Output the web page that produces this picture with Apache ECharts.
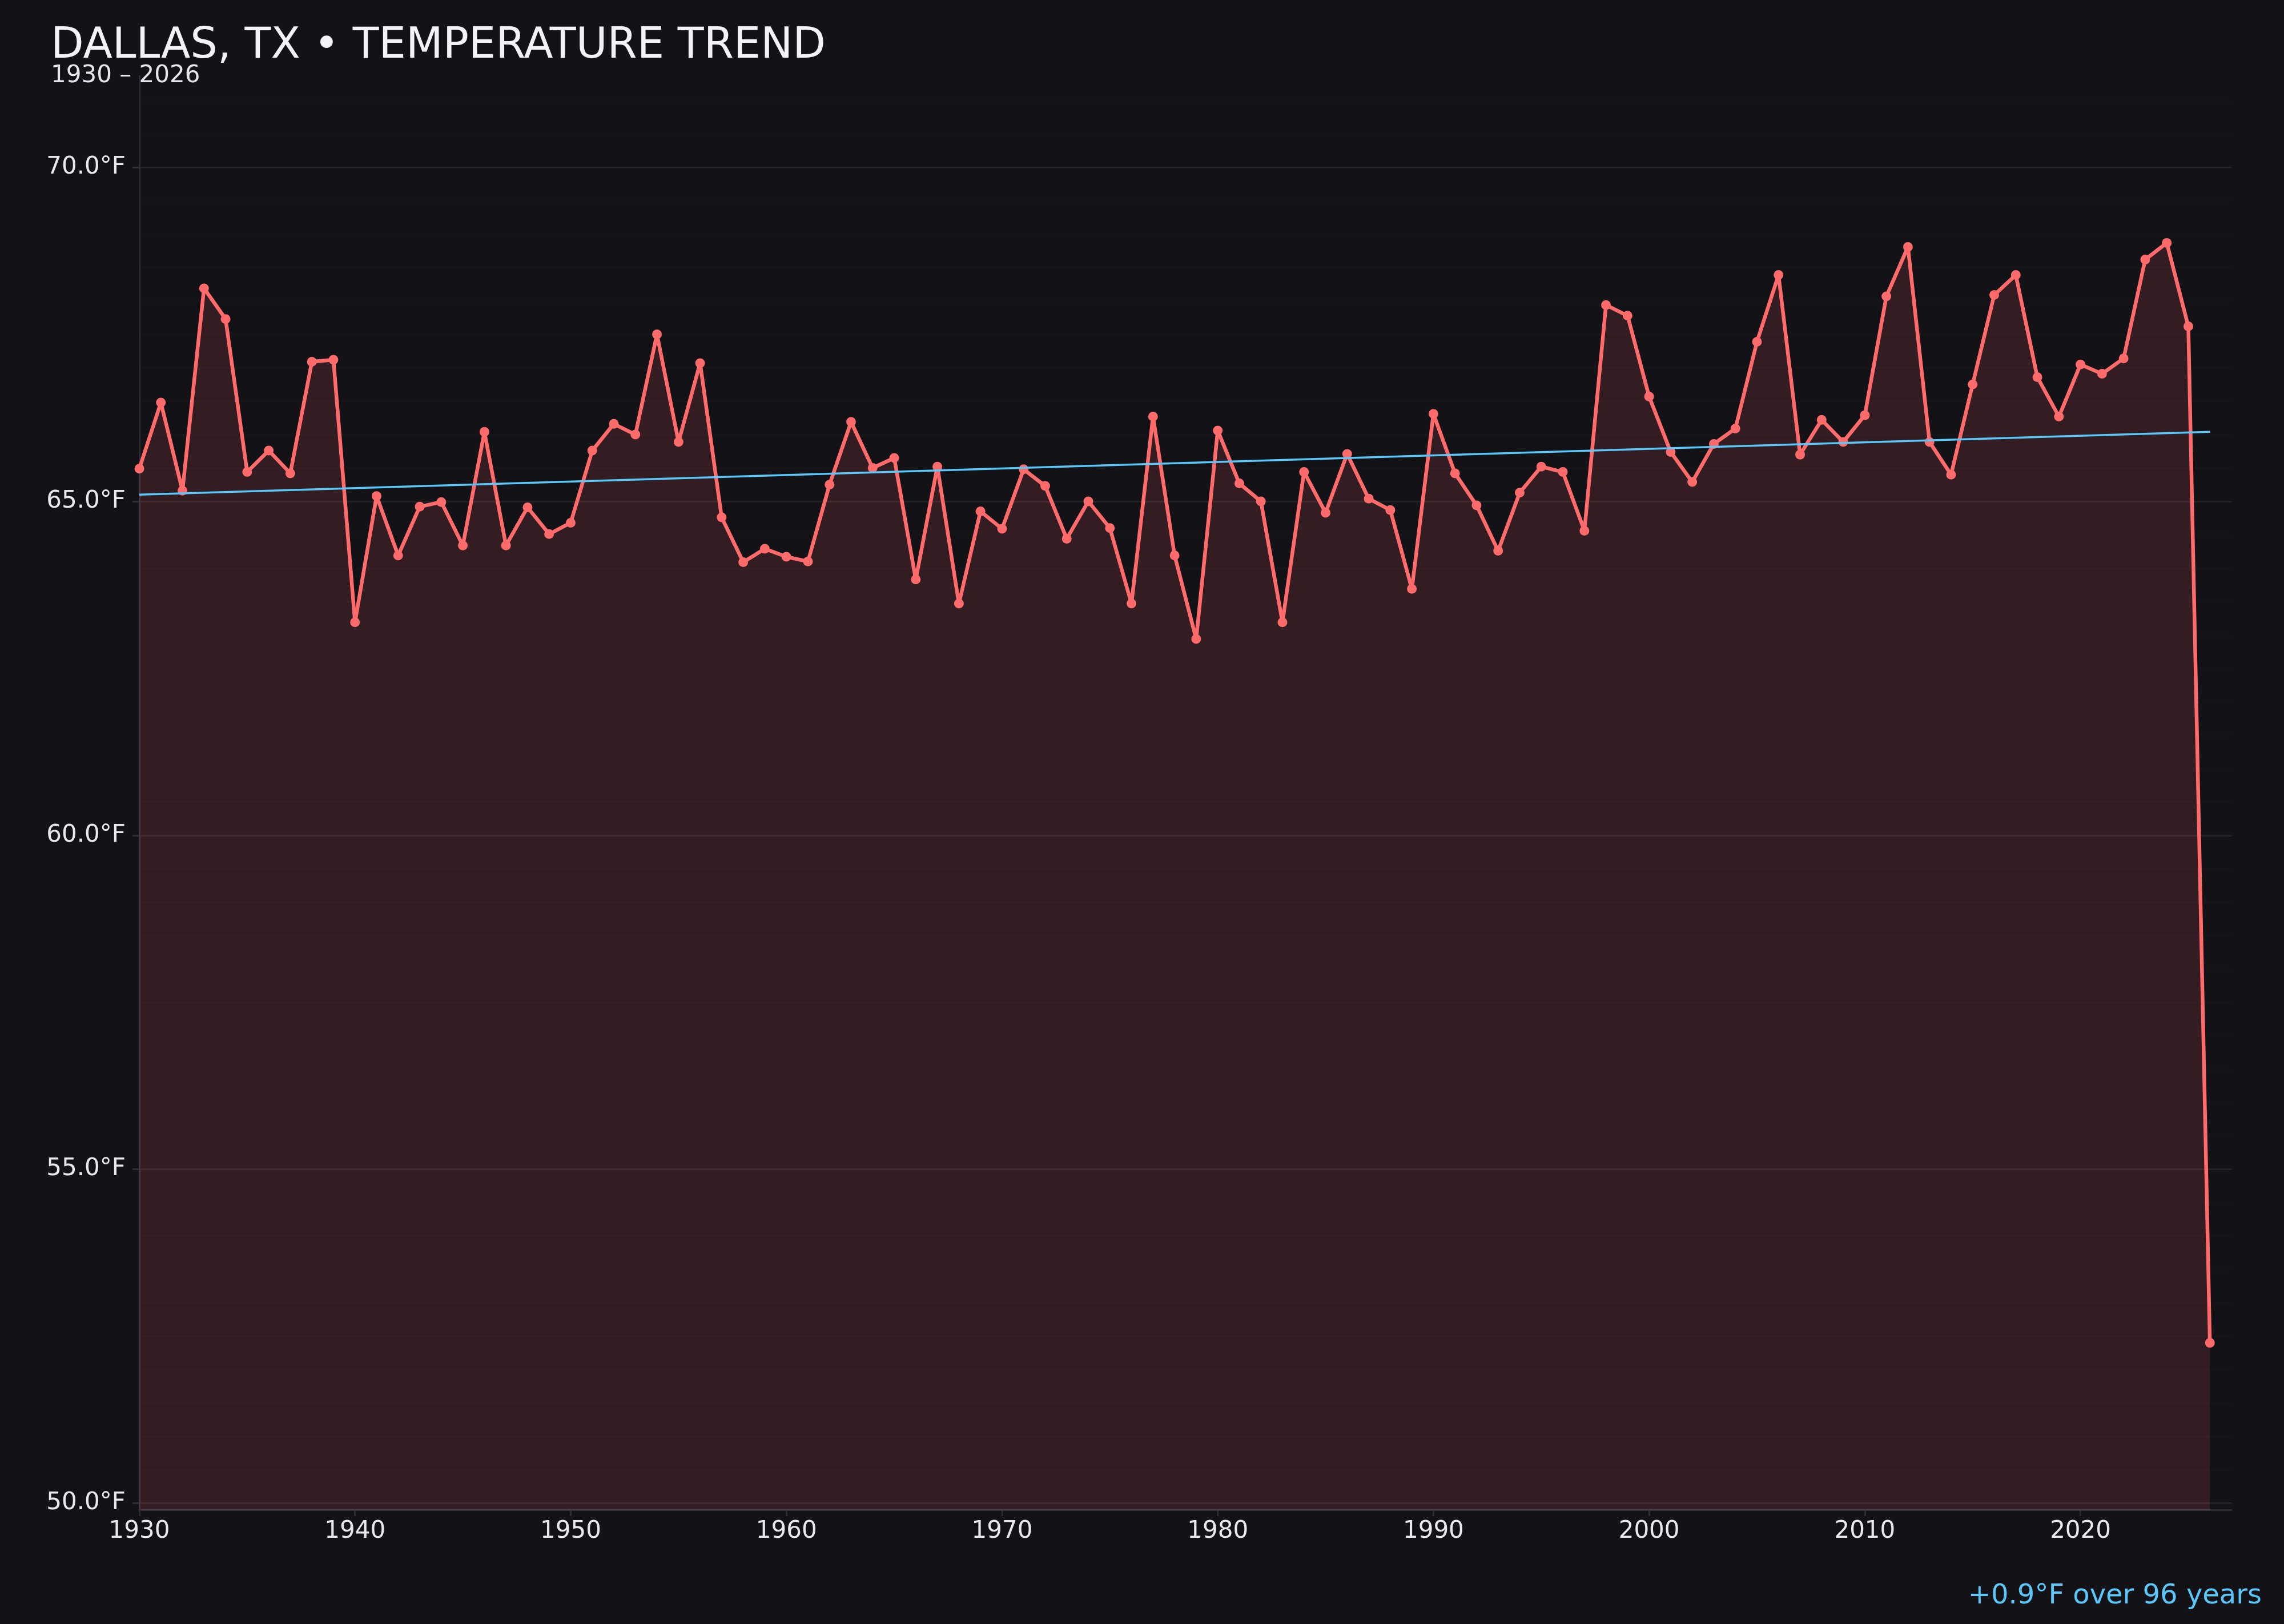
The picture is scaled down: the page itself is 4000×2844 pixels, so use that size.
<!DOCTYPE html>
<html>
<head>
<meta charset="utf-8">
<script src="https://cdn.jsdelivr.net/npm/echarts@6/dist/echarts.min.js"></script>
<style>
html,body{margin:0;padding:0;background:#121217;}
#chart{width:4000px;height:2844px;}
</style>
</head>
<body>
<div id="chart"></div>
<script>
const years = [
  1930,1931,1932,1933,1934,1935,1936,1937,1938,1939,
  1940,1941,1942,1943,1944,1945,1946,1947,1948,1949,
  1950,1951,1952,1953,1954,1955,1956,1957,1958,1959,
  1960,1961,1962,1963,1964,1965,1966,1967,1968,1969,
  1970,1971,1972,1973,1974,1975,1976,1977,1978,1979,
  1980,1981,1982,1983,1984,1985,1986,1987,1988,1989,
  1990,1991,1992,1993,1994,1995,1996,1997,1998,1999,
  2000,2001,2002,2003,2004,2005,2006,2007,2008,2009,
  2010,2011,2012,2013,2014,2015,2016,2017,2018,2019,
  2020,2021,2022,2023,2024,2025,2026
];
const temps = [
  65.49,66.48,65.16,68.19,67.73,65.44,65.76,65.42,67.09,67.12,
  63.19,65.08,64.19,64.92,64.99,64.34,66.04,64.34,64.91,64.51,
  64.68,65.76,66.16,66.00,67.50,65.89,67.07,64.76,64.09,64.29,
  64.17,64.10,65.25,66.19,65.50,65.65,63.83,65.52,63.47,64.85,
  64.59,65.48,65.23,64.44,65.00,64.60,63.47,66.27,64.19,62.94,
  66.06,65.27,65.00,63.19,65.44,64.83,65.71,65.04,64.87,63.69,
  66.31,65.42,64.94,64.26,65.13,65.52,65.44,64.56,67.94,67.78,
  66.57,65.74,65.29,65.86,66.09,67.39,68.39,65.70,66.22,65.89,
  66.29,68.07,68.81,65.89,65.40,66.75,68.09,68.39,66.86,66.27,
  67.05,66.91,67.14,68.62,68.87,67.62,52.40
];
const trendYears = [1930, 2026];
const trendTemps = [65.10, 66.04];
const xTickYears = [1930,1940,1950,1960,1970,1980,1990,2000,2010,2020];
const yTickValues = [50,55,60,65,70];
const yMinorValues = [
  50.5,51,51.5,52,52.5,53,53.5,54,54.5,
  55.5,56,56.5,57,57.5,58,58.5,59,59.5,
  60.5,61,61.5,62,62.5,63,63.5,64,64.5,
  65.5,66,66.5,67,67.5,68,68.5,69,69.5,
  70.5,71
];
const titleText = 'DALLAS, TX • TEMPERATURE TREND';
const subtitleText = '1930 – 2026';
const noteText = '+0.9°F over 96 years';

const FONT = '"DejaVu Sans", sans-serif';
const chart = echarts.init(document.getElementById('chart'), null, {renderer: 'canvas', width: 4000, height: 2844});
const yMin = Math.min(...temps) - 2.5;
const yMax = Math.max(...temps) + 2.5;
const axisColor = '#2e2e37';
const labelColor = '#e8e8ee';

const option = {
  backgroundColor: '#121217',
  animation: false,
  textStyle: {fontFamily: FONT},
  grid: {left: 244, right: 92, top: 133, bottom: 200, containLabel: false},
  xAxis: {
    type: 'value', min: 1930, max: 2027,
    axisLine: {show: true, lineStyle: {color: axisColor, width: 3}},
    axisTick: {show: true, customValues: xTickYears, length: 11, lineStyle: {color: axisColor, width: 3}},
    axisLabel: {customValues: xTickYears, color: labelColor, fontSize: 42, fontFamily: FONT, margin: 17,
      formatter: v => String(v)},
    splitLine: {show: false}
  },
  yAxis: [
    {
      type: 'value', min: yMin, max: yMax, position: 'left',
      axisLine: {show: true, lineStyle: {color: axisColor, width: 3}},
      axisTick: {show: true, customValues: yTickValues, length: 12, lineStyle: {color: axisColor, width: 3}},
      axisLabel: {customValues: yTickValues, color: labelColor, fontSize: 42, fontFamily: FONT, margin: 24,
        formatter: v => v.toFixed(1) + '°F'},
      splitLine: {show: true, lineStyle: {color: 'rgba(255,255,255,0.065)', width: 3}}
    },
    {
      type: 'value', min: yMin, max: yMax, position: 'left',
      axisLine: {show: false},
      axisTick: {show: false, customValues: yMinorValues},
      axisLabel: {show: false},
      splitLine: {show: true, lineStyle: {color: 'rgba(255,255,255,0.011)', width: 3}}
    }
  ],
  series: [
    {
      type: 'line', yAxisIndex: 0,
      data: years.map((y, i) => [y, temps[i]]),
      symbol: 'circle', symbolSize: 17, showSymbol: true, showAllSymbol: true,
      itemStyle: {color: '#ff6b6b'},
      lineStyle: {color: '#ff6b6b', width: 6.5},
      areaStyle: {color: 'rgba(255,100,110,0.2)'},
      z: 2
    },
    {
      type: 'line', yAxisIndex: 0,
      data: trendYears.map((y, i) => [y, trendTemps[i]]),
      symbol: 'none',
      lineStyle: {color: '#5ac8fa', width: 3.5},
      z: 3
    }
  ],
  graphic: [
    {type: 'text', left: 89, top: 44, style: {text: titleText, fontSize: 75, fontFamily: FONT, fill: '#f2f2f7'}},
    {type: 'text', left: 89, top: 112, style: {text: subtitleText, fontSize: 42, fontFamily: FONT, fill: '#e6e6ee'}},
    {type: 'text', right: 39, top: 2772, style: {text: noteText, fontSize: 48, fontFamily: FONT, fill: '#5ac8fa'}}
  ]
};
chart.setOption(option);
</script>
</body>
</html>
